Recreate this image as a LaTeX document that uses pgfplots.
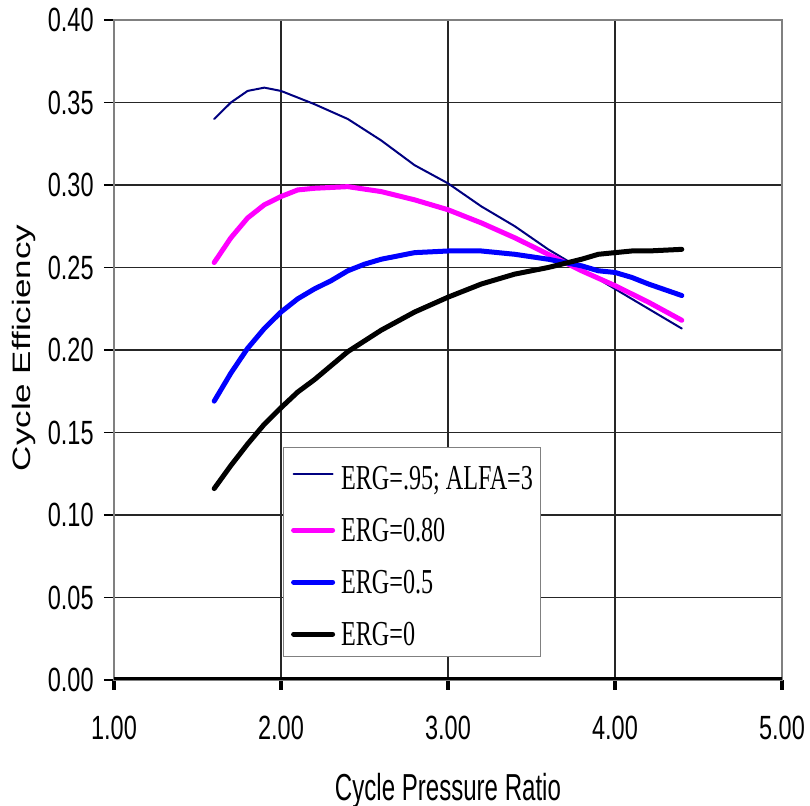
\documentclass[border=0pt]{standalone}
\usepackage{fontspec}
\setmainfont{Liberation Sans}
\newfontfamily\ticksans[FakeStretch=0.70]{Liberation Sans}
\newfontfamily\labsans[FakeStretch=0.64]{Liberation Sans}
\newfontfamily\legserif[FakeStretch=0.69]{Liberation Serif}
\usepackage{graphicx}
\usepackage{pgfplots}
\pgfplotsset{compat=1.18}
\definecolor{ergnavy}{RGB}{0,0,128}
\definecolor{ergmag}{RGB}{255,0,255}
\definecolor{ergblue}{RGB}{0,0,255}

\begin{document}
\begin{tikzpicture}
\path[use as bounding box] (-57pt,-63pt) rectangle (348pt,340pt);
\begin{axis}[
  at={(0pt,0pt)}, anchor=south west,
  scale only axis, width=334pt, height=330pt,
  xmin=1, xmax=5, ymin=0, ymax=0.4,
  xtick={1,2,3,4,5},
  ytick={0,0.05,0.10,0.15,0.20,0.25,0.30,0.35,0.40},
  tick pos=left, tick align=outside,
  major tick length=5pt,
  xtick style={black, line width=2pt},
  ytick style={black, line width=0.8pt},
  axis line style={black!50, line width=1pt},
  grid=major,
  major grid style={black!85, line width=0.75pt},
  /pgf/number format/assume math mode=true,
  /pgf/number format/.cd, fixed, fixed zerofill, precision=2, /pgfplots/.cd,
  ticklabel style={font=\ticksans\fontsize{16.8}{16.8}\selectfont, inner sep=0pt},
  xticklabel style={anchor=north, yshift=-13pt},
  yticklabel style={anchor=east, xshift=-5pt},
  xlabel={Cycle Pressure Ratio},
  xlabel style={font=\labsans\fontsize{18.8}{18.8}\selectfont, inner sep=0pt,
    at={(axis description cs:0.5,-0.1409)}, anchor=north},
  ylabel={\scalebox{1}[0.72]{Cycle Efficiency}},
  ylabel style={font=\fontsize{17.5}{17.5}\selectfont, inner sep=0pt,
    at={(axis description cs:-0.1347,0.503)}, anchor=center},
  legend style={at={(axis description cs:0.253,0.353)}, anchor=north west,
    draw=black!50, line width=0.6pt, fill=white,
    inner xsep=3.75pt, inner ysep=5.5pt, row sep=14.4pt, column sep=3pt,
    nodes={inner sep=0pt, font=\legserif\fontsize{17.5}{17.5}\selectfont,
      text height=11.6pt, text depth=0pt}},
  legend cell align=left,
  legend image code/.code={\draw[#1] (0pt,0pt) -- (19.5pt,0pt);},
  every axis plot/.append style={line join=round, line cap=round},
]
\addplot[ergnavy, line width=1pt] coordinates {
(1.6,0.340)(1.7,0.350)(1.8,0.357)(1.9,0.359)(2.0,0.357)(2.1,0.353)
(2.2,0.349)(2.4,0.340)(2.6,0.327)(2.8,0.312)(3.0,0.301)(3.2,0.287)
(3.4,0.275)(3.6,0.261)(3.8,0.249)(4.0,0.237)(4.2,0.225)(4.4,0.213)
};
\addlegendentry[text height=15.6pt]{ERG=.95; ALFA=3}
\addplot[ergmag, line width=2.5pt] coordinates {
(1.6,0.253)(1.7,0.268)(1.8,0.280)(1.9,0.288)(2.0,0.293)(2.1,0.297)
(2.2,0.298)(2.4,0.299)(2.6,0.296)(2.8,0.291)(3.0,0.285)(3.2,0.277)
(3.4,0.268)(3.6,0.258)(3.8,0.248)(4.0,0.239)(4.2,0.229)(4.4,0.218)
};
\addlegendentry{ERG=0.80}
\addplot[ergblue, line width=2.5pt] coordinates {
(1.6,0.169)(1.7,0.186)(1.8,0.201)(1.9,0.213)(2.0,0.223)(2.1,0.231)
(2.2,0.237)(2.3,0.242)(2.4,0.248)(2.5,0.252)(2.6,0.255)(2.8,0.259)
(3.0,0.260)(3.2,0.260)(3.4,0.258)(3.6,0.255)(3.8,0.251)(3.9,0.248)
(4.0,0.247)(4.1,0.244)(4.2,0.240)(4.4,0.233)
};
\addlegendentry{ERG=0.5}
\addplot[black, line width=2.5pt] coordinates {
(1.6,0.116)(1.7,0.130)(1.8,0.143)(1.9,0.155)(2.0,0.165)(2.1,0.1745)
(2.2,0.182)(2.4,0.199)(2.6,0.212)(2.8,0.223)(3.0,0.232)(3.2,0.240)
(3.4,0.246)(3.6,0.250)(3.8,0.255)(3.9,0.258)(4.0,0.259)(4.1,0.260)
(4.2,0.260)(4.4,0.261)
};
\addlegendentry{ERG=0}
\draw[black, line width=2.5pt] (rel axis cs:0,0) -- (rel axis cs:1,0);
\end{axis}
\end{tikzpicture}
\end{document}
